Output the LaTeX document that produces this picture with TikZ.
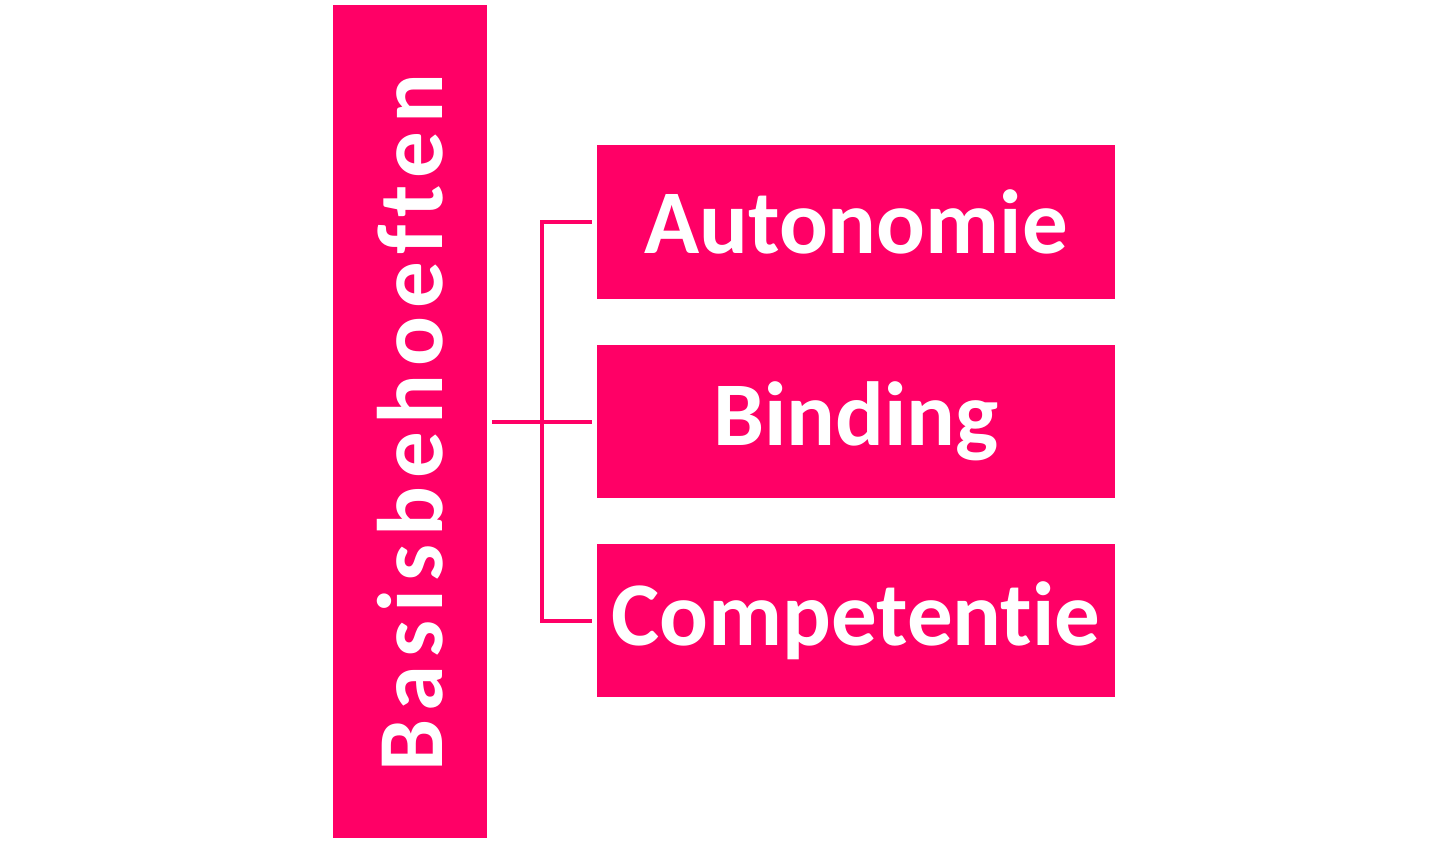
\documentclass[tikz,border=0pt]{standalone}
\usepackage{xcolor}
\usepackage{fontspec}
\setmainfont{Carlito}[Ligatures={NoCommon}]
\newfontfamily\ruimfont{Carlito}[Ligatures={NoCommon}, LetterSpace=8.5]
\usepackage{tikz}

\definecolor{roze}{HTML}{FF0066}

\tikzset{
    blok/.style={fill=roze, inner sep=0pt, text=white, font=\bfseries\fontsize{91}{100}\selectfont},
    lijn/.style={draw=roze, line width=4pt}
}

\begin{document}
\begin{tikzpicture}[x=1pt, y=-1pt]
        \useasboundingbox (0, 0) rectangle (1447, 844);

        \node[blok, minimum width=154pt, minimum height=833pt] at (410, 421.5) (B) {};
        \node[blok, fill=none, rotate=90, font=\ruimfont\bfseries\fontsize{93}{100}\selectfont] at (410, 422.5) (Btxt) {Basisbehoeften};

        \node[blok, minimum width=518pt, minimum height=154pt] at (856, 222) (A) {Autonomie};
        \node[blok, minimum width=518pt, minimum height=153pt] at (856, 421.5) (Bi) {Binding};
        \node[blok, minimum width=518pt, minimum height=153pt] at (856, 620.5) (C) {Competentie};

        \coordinate (m) at (542, 421.5);
        \draw[lijn] ([xshift=5pt]B.east) -- (m);
        \draw[lijn] ([xshift=-5pt]A.west) -| (m) |- ([xshift=-5pt]C.west);
        \draw[lijn] (m) -- ([xshift=-5pt]Bi.west);
    \end{tikzpicture}
\end{document}
